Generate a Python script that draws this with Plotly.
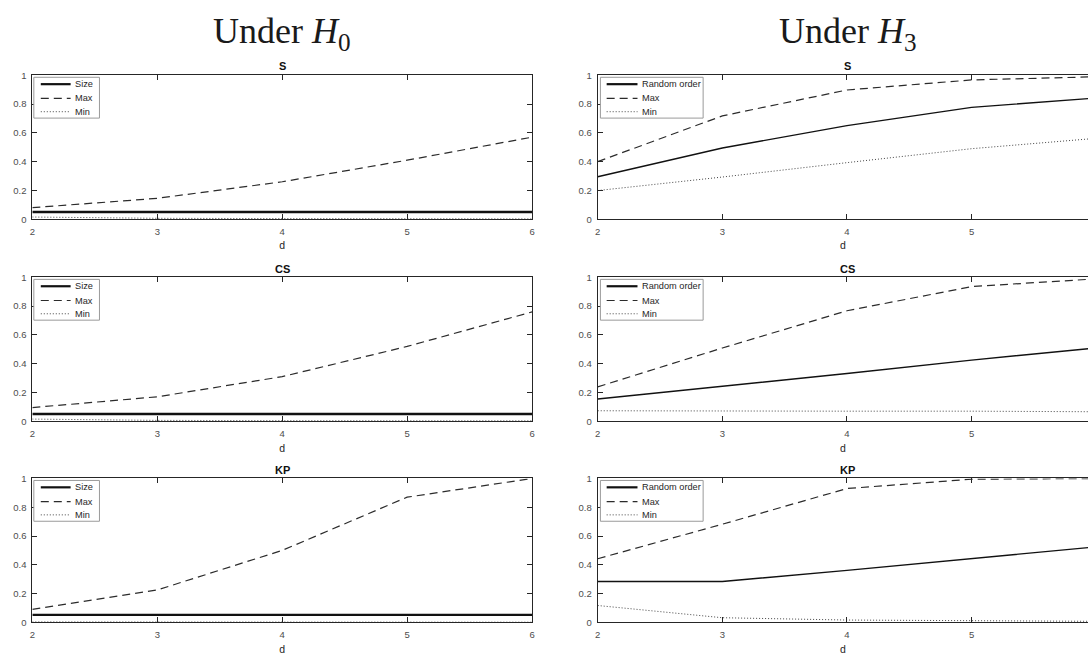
import plotly.graph_objects as go

W, H = 1091, 659

# ---------------- data ----------------
d_vals = [2, 3, 4, 5, 6]
x_tick_labels = ["2", "3", "4", "5", "6"]
y_tick_vals = [0, 0.2, 0.4, 0.6, 0.8, 1]
y_tick_labels = ["0", "0.2", "0.4", "0.6", "0.8", "1"]
tests = ["S", "CS", "KP"]
column_titles = ["Under <i>H</i><sub>0</sub>", "Under <i>H</i><sub>3</sub>"]
h0_names = ["Size", "Max", "Min"]
h3_names = ["Random order", "Max", "Min"]

# Under H0
h0_S_size = [0.050, 0.050, 0.050, 0.050, 0.050]
h0_S_max = [0.080, 0.145, 0.260, 0.410, 0.570]
h0_S_min = [0.015, 0.006, 0.004, 0.003, 0.002]
h0_CS_size = [0.050, 0.050, 0.050, 0.050, 0.050]
h0_CS_max = [0.095, 0.170, 0.310, 0.520, 0.760]
h0_CS_min = [0.015, 0.006, 0.004, 0.003, 0.003]
h0_KP_size = [0.052, 0.052, 0.052, 0.052, 0.052]
h0_KP_max = [0.090, 0.225, 0.500, 0.870, 1.000]
h0_KP_min = [0.003, 0.002, 0.002, 0.001, 0.001]

# Under H3
h3_S_rand = [0.295, 0.495, 0.650, 0.777, 0.842]
h3_S_max = [0.400, 0.718, 0.898, 0.968, 0.990]
h3_S_min = [0.199, 0.293, 0.393, 0.490, 0.562]
h3_CS_rand = [0.155, 0.243, 0.332, 0.425, 0.510]
h3_CS_max = [0.239, 0.509, 0.768, 0.936, 0.990]
h3_CS_min = [0.073, 0.070, 0.070, 0.070, 0.066]
h3_KP_rand = [0.284, 0.284, 0.361, 0.445, 0.525]
h3_KP_max = [0.442, 0.682, 0.930, 0.995, 1.000]
h3_KP_min = [0.117, 0.032, 0.016, 0.009, 0.007]

h0_series = [(h0_S_size, h0_S_max, h0_S_min),
             (h0_CS_size, h0_CS_max, h0_CS_min),
             (h0_KP_size, h0_KP_max, h0_KP_min)]
h3_series = [(h3_S_rand, h3_S_max, h3_S_min),
             (h3_CS_rand, h3_CS_max, h3_CS_min),
             (h3_KP_rand, h3_KP_max, h3_KP_min)]

# ---------------- layout geometry (pixels) ----------------
col_left = [29.5, 598.0]
col_right = [532.0, 1091.0]
x_range_end = [6.0, 5.934]
row_top = [70.5, 276.0, 480.5]
row_h = 146.3
unit_px = 125.6

AX_COLOR = "#262626"
SANS = "Liberation Sans, Arial, sans-serif"
TICK_FONT = dict(family=SANS, size=9.5, color="#4d4d4d")
LEG_FONT = dict(family=SANS, size=9.2, color="#262626")

line_styles = [
    [dict(color="#111111", width=2.4, dash="solid"),
     dict(color="#2b2b2b", width=1.2, dash="8px,5px"),
     dict(color="#444444", width=1.0, dash="1px,2px")],
    [dict(color="#111111", width=1.4, dash="solid"),
     dict(color="#2b2b2b", width=1.2, dash="8px,5px"),
     dict(color="#444444", width=1.0, dash="1px,2px")],
]


def px_x(p):
    return p / W


def px_y(p):
    return 1 - p / H


fig = go.Figure()
shapes = []
annotations = []

for r in range(3):
    for c in range(2):
        k = r * 2 + c + 1
        xa = "xaxis" if k == 1 else f"xaxis{k}"
        ya = "yaxis" if k == 1 else f"yaxis{k}"
        xr = "x" if k == 1 else f"x{k}"
        yr = "y" if k == 1 else f"y{k}"
        top = row_top[r]
        bot = top + row_h
        L = col_left[c]
        R = col_right[c]
        series = h0_series[r] if c == 0 else h3_series[r]
        names = h0_names if c == 0 else h3_names
        xt_vals = d_vals if c == 0 else d_vals[:4]
        xt_text = x_tick_labels if c == 0 else x_tick_labels[:4]

        for i, ys in enumerate(series):
            fig.add_trace(go.Scatter(
                x=d_vals, y=ys, mode="lines", name=names[i],
                line=line_styles[c][i], xaxis=xr, yaxis=yr,
                showlegend=False, hoverinfo="skip"))

        fig.layout[xa] = dict(
            domain=[px_x(L), px_x(R)], range=[2, x_range_end[c]], anchor=yr,
            tickvals=xt_vals, ticktext=xt_text, ticks="inside", ticklen=5,
            tickcolor=AX_COLOR, tickwidth=1, showline=True, linecolor=AX_COLOR,
            linewidth=1, mirror="allticks", showgrid=False, zeroline=False,
            tickfont=TICK_FONT, ticklabelstandoff=3,
            title=dict(text="d", font=dict(family=SANS, size=10.5, color="#262626"),
                       standoff=6))
        fig.layout[ya] = dict(
            domain=[px_y(bot), px_y(top)], range=[0, 1], anchor=xr,
            tickvals=y_tick_vals, ticktext=y_tick_labels, ticks="inside", ticklen=5,
            tickcolor=AX_COLOR, tickwidth=1, showline=True, linecolor=AX_COLOR,
            linewidth=1, mirror="allticks" if c == 0 else False, showgrid=False,
            zeroline=False, tickfont=TICK_FONT, ticklabelstandoff=3)

        # subplot title (centred at d = 4)
        cx = L + 2 * unit_px
        annotations.append(dict(
            x=px_x(cx), y=px_y(top - 9), xref="paper", yref="paper",
            text=f"<b>{tests[r]}</b>", showarrow=False, xanchor="center", yanchor="middle",
            font=dict(family=SANS, size=11, color="#111111")))

        # legend box (MATLAB style, inside top-left of axes)
        if c == 0:
            bx0, bx1, sx0, sx1, tx = L + 1.5, L + 67.5, L + 8.5, L + 38.5, L + 40.5
        else:
            bx0, bx1, sx0, sx1, tx = L + 2.7, L + 106, L + 9, L + 40, L + 43
        shapes.append(dict(type="rect", xref="paper", yref="paper",
                           x0=px_x(bx0), x1=px_x(bx1), y0=px_y(top + 43.5), y1=px_y(top + 2),
                           line=dict(color="#9a9a9a", width=1), fillcolor="white", layer="above"))
        for i, off in enumerate([9, 23.5, 37]):
            st = line_styles[c][i]
            shapes.append(dict(type="line", xref="paper", yref="paper",
                               x0=px_x(sx0), x1=px_x(sx1), y0=px_y(top + off), y1=px_y(top + off),
                               line=dict(color=st["color"], width=st["width"] if i else 2.2,
                                         dash=st["dash"]), layer="above"))
            annotations.append(dict(
                x=px_x(tx), y=px_y(top + off), xref="paper", yref="paper",
                text=names[i], showarrow=False, xanchor="left", yanchor="middle",
                font=LEG_FONT))

# column titles
for c in range(2):
    cx = col_left[c] + 2 * unit_px
    annotations.append(dict(
        x=px_x(cx), y=px_y(28), xref="paper", yref="paper", text=column_titles[c],
        showarrow=False, xanchor="center", yanchor="middle",
        font=dict(family="Liberation Serif, Times New Roman, serif", size=36, color="#1a1a1a")))

fig.update_layout(
    width=W, height=H, margin=dict(l=0, r=0, t=0, b=0),
    paper_bgcolor="white", plot_bgcolor="white",
    shapes=shapes, annotations=annotations, showlegend=False)

fig.write_html("out.html", config={"displayModeBar": False},
               post_script="document.body.style.margin='0px';document.body.style.overflow='hidden';")
